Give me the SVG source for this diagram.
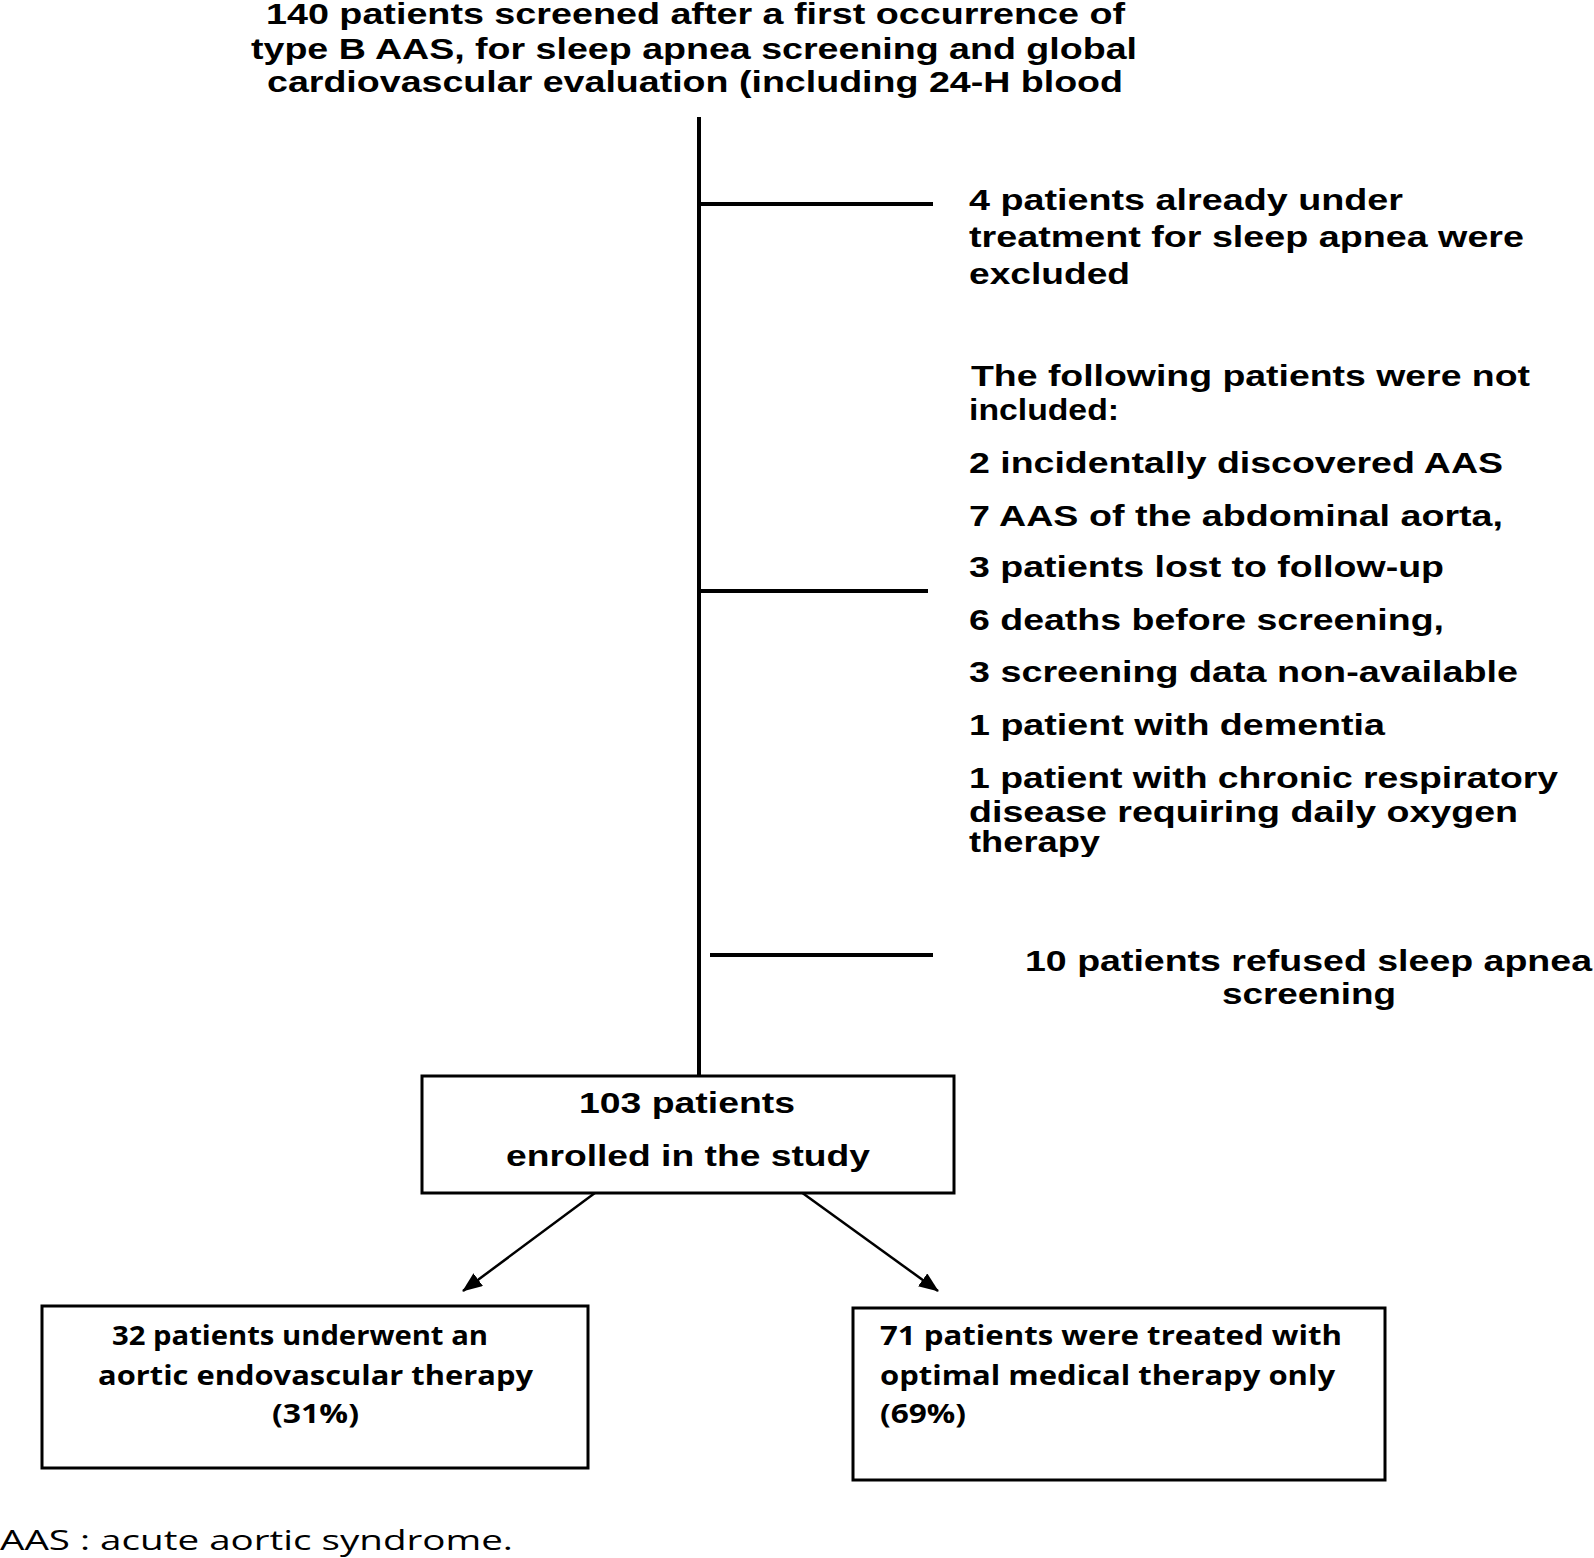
<svg xmlns="http://www.w3.org/2000/svg" width="1594" height="1558" viewBox="0 0 1594 1558">
<style>
.a{font-family:"Liberation Sans",Arial,sans-serif;font-weight:bold;font-size:29px;fill:#000}
.c{font-family:"Open Sans","Noto Sans",sans-serif;font-weight:bold;font-size:26px;fill:#000}
.f{font-family:"Open Sans","Noto Sans",sans-serif;font-size:27px;fill:#000}
.ln{stroke:#000;stroke-width:4;fill:none}
.bx{stroke:#000;stroke-width:3;fill:#fff}
.ar{stroke:#000;stroke-width:2.5;fill:none}
</style>
<defs>
<marker id="ah" markerWidth="20" markerHeight="16" refX="19" refY="8" orient="auto" markerUnits="userSpaceOnUse" viewBox="0 0 20 16">
<path d="M0,0 L20,8 L0,16 z" fill="#000"/>
</marker>
<clipPath id="clipT"><rect x="960" y="820" width="200" height="37"/></clipPath>
</defs>
<rect width="1594" height="1558" fill="#fff"/>
<g id="connectors">
<line class="ln" x1="699" y1="117" x2="699" y2="1076"/>
<line class="ln" x1="699" y1="204" x2="933" y2="204"/>
<line class="ln" x1="699" y1="591" x2="928" y2="591"/>
<line class="ln" x1="710" y1="955" x2="933" y2="955"/>
<line class="ar" x1="607" y1="1184" x2="463" y2="1291" marker-end="url(#ah)"/>
<line class="ar" x1="790" y1="1184" x2="938" y2="1291" marker-end="url(#ah)"/>
</g>
<g id="screened">
<text class="a" x="266" y="24" textLength="859" lengthAdjust="spacingAndGlyphs">140 patients screened after a first occurrence of</text>
<text class="a" x="251" y="59" textLength="886" lengthAdjust="spacingAndGlyphs">type B AAS, for sleep apnea screening and global</text>
<text class="a" x="267" y="92" textLength="856" lengthAdjust="spacingAndGlyphs">cardiovascular evaluation (including 24-H blood</text>
</g>
<g id="excluded1">
<text class="a" x="969" y="210" textLength="434" lengthAdjust="spacingAndGlyphs">4 patients already under</text>
<text class="a" x="969" y="247" textLength="555" lengthAdjust="spacingAndGlyphs">treatment for sleep apnea were</text>
<text class="a" x="969" y="284" textLength="161" lengthAdjust="spacingAndGlyphs">excluded</text>
</g>
<g id="notincluded">
<text class="a" x="971" y="386" textLength="559" lengthAdjust="spacingAndGlyphs">The following patients were not</text>
<text class="a" x="969" y="420" textLength="150" lengthAdjust="spacingAndGlyphs">included:</text>
<text class="a" x="969" y="473" textLength="534" lengthAdjust="spacingAndGlyphs">2 incidentally discovered AAS</text>
<text class="a" x="969" y="526" textLength="534" lengthAdjust="spacingAndGlyphs">7 AAS of the abdominal aorta,</text>
<text class="a" x="969" y="577" textLength="475" lengthAdjust="spacingAndGlyphs">3 patients lost to follow-up</text>
<text class="a" x="969" y="630" textLength="475" lengthAdjust="spacingAndGlyphs">6 deaths before screening,</text>
<text class="a" x="969" y="682" textLength="549" lengthAdjust="spacingAndGlyphs">3 screening data non-available</text>
<text class="a" x="969" y="735" textLength="416" lengthAdjust="spacingAndGlyphs">1 patient with dementia</text>
<text class="a" x="969" y="788" textLength="589" lengthAdjust="spacingAndGlyphs">1 patient with chronic respiratory</text>
<text class="a" x="969" y="822" textLength="549" lengthAdjust="spacingAndGlyphs">disease requiring daily oxygen</text>
<text class="a" x="969" y="852" textLength="131" lengthAdjust="spacingAndGlyphs" clip-path="url(#clipT)">therapy</text>
</g>
<g id="refused">
<text class="a" x="1025" y="971" textLength="567" lengthAdjust="spacingAndGlyphs">10 patients refused sleep apnea</text>
<text class="a" x="1222" y="1004" textLength="174" lengthAdjust="spacingAndGlyphs">screening</text>
</g>
<g id="enrolled">
<rect class="bx" x="422" y="1076" width="532" height="117"/>
<text class="a" x="579" y="1113" textLength="216" lengthAdjust="spacingAndGlyphs">103 patients</text>
<text class="a" x="506" y="1166" textLength="364" lengthAdjust="spacingAndGlyphs">enrolled in the study</text>
</g>
<g id="endovascular">
<rect class="bx" x="42" y="1306" width="546" height="162"/>
<text class="c" x="112" y="1345" textLength="376" lengthAdjust="spacingAndGlyphs">32 patients underwent an</text>
<text class="c" x="98" y="1385" textLength="435" lengthAdjust="spacingAndGlyphs">aortic endovascular therapy</text>
<text class="c" x="272" y="1423" textLength="87" lengthAdjust="spacingAndGlyphs">(31%)</text>
</g>
<g id="medical">
<rect class="bx" x="853" y="1308" width="532" height="172"/>
<text class="c" x="880" y="1345" textLength="462" lengthAdjust="spacingAndGlyphs">71 patients were treated with</text>
<text class="c" x="880" y="1385" textLength="455" lengthAdjust="spacingAndGlyphs">optimal medical therapy only</text>
<text class="c" x="880" y="1423" textLength="86" lengthAdjust="spacingAndGlyphs">(69%)</text>
</g>
<g id="footnote">
<text class="f" x="0" y="1550" textLength="513" lengthAdjust="spacingAndGlyphs">AAS : acute aortic syndrome.</text>
</g>
</svg>
